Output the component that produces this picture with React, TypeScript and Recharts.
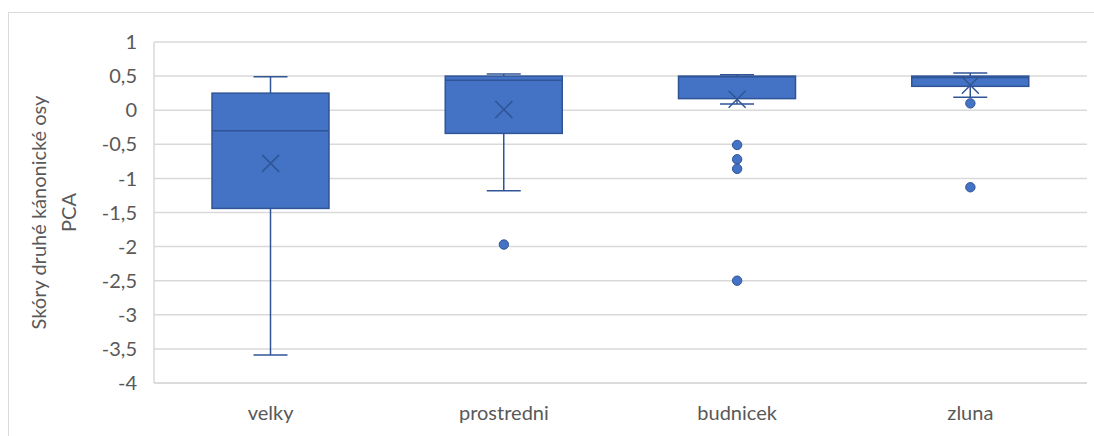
import { ComposedChart, Bar, Scatter, XAxis, YAxis, CartesianGrid, Label } from 'recharts'

const categories = ['velky', 'prostredni', 'budnicek', 'zluna']
const minValues = [-3.59, -1.18, 0.09, 0.19]
const q1Values = [-1.44, -0.34, 0.17, 0.35]
const medianValues = [-0.3, 0.44, 0.49, 0.48]
const q3Values = [0.25, 0.5, 0.5, 0.5]
const maxValues = [0.49, 0.53, 0.52, 0.545]
const meanValues = [-0.78, 0.01, 0.16, 0.365]

const outlierCats = ['prostredni', 'budnicek', 'budnicek', 'budnicek', 'budnicek', 'zluna', 'zluna']
const outlierValues = [-1.97, -0.51, -0.72, -0.86, -2.5, 0.1, -1.13]

const yTicks = [-4, -3.5, -3, -2.5, -2, -1.5, -1, -0.5, 0, 0.5, 1]

const FILL = '#4472C4'
const EDGE = '#2F5597'
const GRID = '#d9d9d9'
const TEXT = '#595959'
const FONT = 'Lato, sans-serif'

const data = categories.map((name, i) => ({
  name,
  min: minValues[i],
  q1: q1Values[i],
  median: medianValues[i],
  q3: q3Values[i],
  max: maxValues[i],
}))

const means = categories.map((name, i) => ({ name, value: meanValues[i] }))
const outliers = outlierCats.map((name, i) => ({ name, value: outlierValues[i] }))

// bar spans [min, max]; derive the pixel position of the other stats from it
const BoxShape = (props: any) => {
  const { x, y, width, height, payload } = props
  if (payload == null || height == null) return null
  const { min, q1, median, q3, max } = payload
  const px = (v: number) => y + ((max - v) / (max - min)) * height
  const cx = x + width / 2
  const cap = 17
  return (
    <g>
      <line x1={cx} x2={cx} y1={px(max)} y2={px(q3)} stroke={EDGE} strokeWidth={1.5} />
      <line x1={cx} x2={cx} y1={px(q1)} y2={px(min)} stroke={EDGE} strokeWidth={1.5} />
      <line x1={cx - cap} x2={cx + cap} y1={px(max)} y2={px(max)} stroke={EDGE} strokeWidth={1.5} />
      <line x1={cx - cap} x2={cx + cap} y1={px(min)} y2={px(min)} stroke={EDGE} strokeWidth={1.5} />
      <rect x={x} y={px(q3)} width={width} height={px(q1) - px(q3)} fill={FILL} stroke={EDGE} strokeWidth={1.5} />
      <line x1={x} x2={x + width} y1={px(median)} y2={px(median)} stroke={EDGE} strokeWidth={1.5} />
    </g>
  )
}

const MeanMark = (props: any) => {
  const { cx, cy } = props
  const s = 8.5
  return (
    <path
      d={`M${cx - s},${cy - s}L${cx + s},${cy + s}M${cx - s},${cy + s}L${cx + s},${cy - s}`}
      stroke={EDGE}
      strokeWidth={1.5}
      fill="none"
    />
  )
}

const OutlierDot = (props: any) => {
  const { cx, cy } = props
  return <circle cx={cx} cy={cy} r={4.7} fill={FILL} stroke={EDGE} strokeWidth={1} />
}

const YTitle = (props: any) => {
  const vb = props.viewBox || {}
  const cy = vb.y + vb.height / 2
  const x1 = 38
  const x2 = 68
  return (
    <g fill={TEXT} fontSize={20} fontFamily={FONT}>
      <text x={x1} y={cy} textAnchor="middle" dominantBaseline="central" transform={`rotate(-90 ${x1} ${cy})`}>
        Skóry druhé kánonické osy
      </text>
      <text x={x2} y={cy} textAnchor="middle" dominantBaseline="central" transform={`rotate(-90 ${x2} ${cy})`}>
        PCA
      </text>
    </g>
  )
}

export default function App() {
  return (
    <div style={{ position: 'absolute', left: 0, top: 0, width: 1094, height: 436, overflow: 'hidden', background: '#fff' }}>
      <div
        style={{
          position: 'absolute',
          left: 8,
          top: 12,
          width: 1200,
          height: 500,
          border: `1px solid ${GRID}`,
          boxSizing: 'border-box',
        }}
      />
      <div style={{ position: 'absolute', left: 0, top: 0 }}>
        <ComposedChart
          width={1094}
          height={436}
          data={data}
          margin={{ top: 42, right: 7, bottom: 13, left: 0 }}
          barCategoryGap={0}
        >
          <CartesianGrid vertical={false} stroke={GRID} strokeWidth={1.5} />
          <XAxis
            dataKey="name"
            type="category"
            allowDuplicatedCategory={false}
            axisLine={{ stroke: GRID, strokeWidth: 1.5 }}
            tickLine={false}
            tickMargin={17}
            height={40}
            tick={{ fill: TEXT, fontSize: 20, fontFamily: FONT }}
          />
          <YAxis
            type="number"
            domain={[-4, 1]}
            ticks={yTicks}
            interval={0}
            width={154}
            axisLine={{ stroke: GRID, strokeWidth: 1.5 }}
            tickLine={false}
            tickMargin={11}
            tick={{ fill: TEXT, fontSize: 20, fontFamily: FONT }}
            tickFormatter={(v: number) => String(v).replace('.', ',')}
          >
            <Label content={YTitle} />
          </YAxis>
          <Bar
            dataKey={(d: any) => [d.min, d.max]}
            barSize={117}
            shape={BoxShape}
            isAnimationActive={false}
          />
          <Scatter data={outliers} dataKey="value" shape={OutlierDot} isAnimationActive={false} />
          <Scatter data={means} dataKey="value" shape={MeanMark} isAnimationActive={false} />
        </ComposedChart>
      </div>
    </div>
  )
}
